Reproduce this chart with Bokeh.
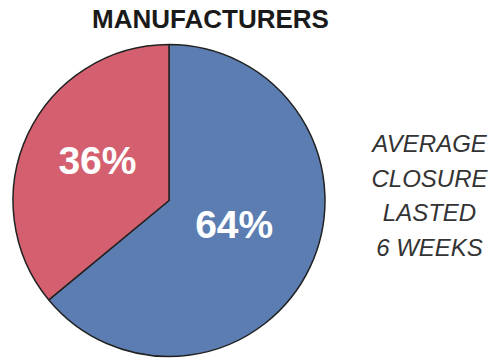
import math
from bokeh.plotting import figure
from bokeh.models import ColumnDataSource, Range1d
from bokeh.core.properties import value
from bokeh.embed import file_html
from bokeh.resources import INLINE

title = "MANUFACTURERS"
categories = ["Closed", "Not closed"]
shares = [64, 36]
labels = ["64%", "36%"]
colors = ["#5b7db2", "#d4606f"]
note_lines = ["AVERAGE", "CLOSURE", "LASTED", "6 WEEKS"]

W, H = 500, 361
p = figure(width=W, height=H, output_backend="svg", toolbar_location=None,
           x_range=Range1d(0, W), y_range=Range1d(0, H), min_border=0)
p.axis.visible = False
p.grid.visible = False
p.outline_line_color = None
p.background_fill_color = "white"

cx, cy, r = 168.5, H - 200, 156
total = sum(shares)
start = math.pi / 2
angles = [s / total * 2 * math.pi for s in shares]
red_end = start + angles[1]
starts = [red_end, start]
ends = [start + 2 * math.pi, red_end]
src = ColumnDataSource(dict(start=starts, end=ends, color=colors, cat=categories))
p.wedge(x=cx, y=cy, radius=r, start_angle="start", end_angle="end",
        fill_color="color", line_color="#222222", line_width=1.5, source=src)

lab_x, lab_y = [], []
for s, e, rr, da in zip(starts, ends, [0.45, 0.52], [0.06, -0.05]):
    mid = (s + e) / 2 + da
    lab_x.append(cx + rr * r * math.cos(mid))
    lab_y.append(cy + rr * r * math.sin(mid) + 2)
p.text(x=lab_x, y=lab_y, text=labels, text_color="white",
       text_font=value("Liberation Sans"), text_font_style="bold",
       text_font_size="39px", text_align="center", text_baseline="middle")

p.text(x=[210], y=[H - 18], text=[title], text_color="#1a1a1a",
       text_font=value("Liberation Sans"), text_font_style="bold",
       text_font_size="26px", text_align="center", text_baseline="middle")

ys = [H - 143 - i * 34.7 for i in range(len(note_lines))]
p.text(x=[429] * len(note_lines), y=ys, text=note_lines, text_color="#333333",
       text_font=value("Liberation Sans"), text_font_style="italic",
       text_font_size="24px", text_align="center", text_baseline="middle")

open("out.html", "w").write(file_html(p, INLINE))
